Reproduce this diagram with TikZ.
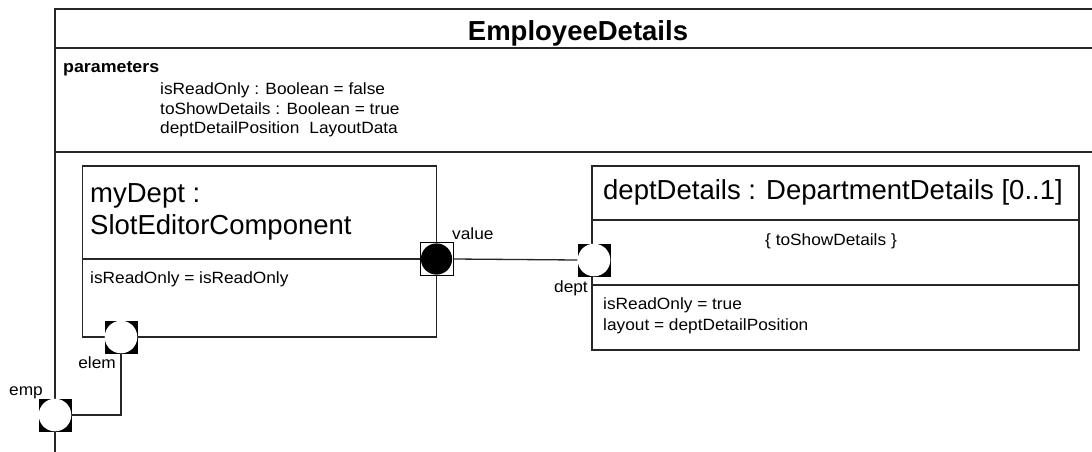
\documentclass[tikz,border=0pt]{standalone}
\usepackage{fontspec}
\setmainfont{Liberation Sans}
\newfontfamily\smallfnt[FakeStretch=1.06]{Liberation Sans}
\begin{document}
\begin{tikzpicture}[x=1pt,y=-1pt,
  frameline/.style={line width=1.7pt, draw=black!85},
  boxline/.style={line width=1.3pt, draw=black!85},
  umlbox/.style={boxline, rectangle, inner sep=0pt},
  big/.style={font=\fontsize{27.5}{32}\selectfont, inner sep=0pt},
  small/.style={font=\smallfnt\fontsize{16.3}{19}\selectfont, inner sep=0pt},
  portw/.style={rectangle, fill=black, minimum size=33pt, inner sep=0pt,
    path picture={\fill[white] (path picture bounding box.center) circle (16.3pt);}},
  portb/.style={rectangle, draw=black, line width=0.8pt, fill=white, minimum size=33pt, inner sep=0pt,
    path picture={\fill[black] (path picture bounding box.center) circle (15.6pt);}},
  conn/.style={line width=1.3pt, draw=black!85}]
\useasboundingbox (0,0) rectangle (1092,452);
% outer frame (open to the right and bottom)
\coordinate (ftr) at (1092,9);
\coordinate (ftl) at (55,9);
\coordinate (fbl) at (55,452);
\draw[frameline] (ftr) -- (ftl) -- (fbl);
\coordinate (d1l) at (55,48);
\coordinate (d1r) at (1092,48);
\coordinate (d2l) at (55,152);
\coordinate (d2r) at (1092,152);
\draw[frameline] (d1l) -- (d1r);
\draw[frameline] (d2l) -- (d2r);
\node[font=\bfseries\fontsize{27.5}{32}\selectfont, inner sep=0pt, anchor=base] (title) at (578,41) {EmployeeDetails};
% parameters
\node[inner sep=0pt, font=\bfseries\smallfnt\fontsize{16.8}{19}\selectfont, anchor=base west] (params) at (63,72) {parameters};
\node[small, anchor=base west] (p1) at (160,95) {isReadOnly : Boolean = false};
\node[small, anchor=base west] (p2) at (160,114) {toShowDetails : Boolean = true};
\node[small, anchor=base west] (p3) at (160,133) {deptDetailPosition\hspace{10pt}LayoutData};
% left box
\node[umlbox, minimum width=354pt, minimum height=171pt] (mydept) at (259.5,251.5) {};
\coordinate (ldl) at (82,259);
\coordinate (ldr) at (436.5,259);
\draw[boxline] (ldl) -- (ldr);
\node[big, anchor=base west] (md1) at (90,202) {myDept :};
\node[big, anchor=base west] (md2) at (90,234) {SlotEditorComponent};
\node[small, anchor=base west] (md3) at (90,283) {isReadOnly = isReadOnly};
% right box
\node[umlbox, minimum width=487pt, minimum height=184pt] (dd) at (835.5,258) {};
\coordinate (rd1l) at (592,220);
\coordinate (rd1r) at (1079,220);
\coordinate (rd2l) at (592,285);
\coordinate (rd2r) at (1079,285);
\draw[boxline] (rd1l) -- (rd1r);
\draw[boxline] (rd2l) -- (rd2r);
\node[big, anchor=base west] (dd1) at (603,199) {deptDetails : DepartmentDetails [0..1]};
\node[small, anchor=base] (dd2) at (831,245) {\{ toShowDetails \}};
\node[small, anchor=base west] (dd3) at (603,309) {isReadOnly = true};
\node[small, anchor=base west] (dd4) at (603,330) {layout = deptDetailPosition};
% ports
\node[portb] (value) at (436.5,259) {};
\node[portw] (dept) at (594,260) {};
\node[portw] (elem) at (121,337) {};
\node[portw] (emp) at (55,415) {};
% connectors
\draw[conn] (value.east) -- (dept.west);
\draw[conn] (elem.south) |- (emp.east);
% port labels
\node[small, anchor=base west] (lvalue) at (452,239) {value};
\node[small, anchor=base east] (ldept) at (588,292) {dept};
\node[small, anchor=base east] (lelem) at (116,368) {elem};
\node[small, anchor=base west] (lemp) at (9,395) {emp};
\end{tikzpicture}
\end{document}
